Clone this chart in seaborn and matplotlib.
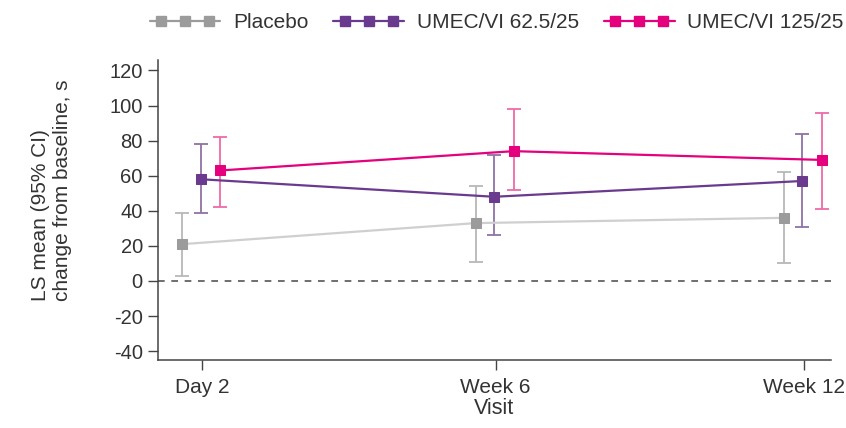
import matplotlib
matplotlib.use("Agg")
import matplotlib.pyplot as plt
from matplotlib.lines import Line2D
from matplotlib.legend_handler import HandlerLine2D, HandlerTuple
import seaborn as sns
import pandas as pd
import numpy as np

# Study visits (day of study) and their axis labels
visit_days = [2, 42, 84]
visit_labels = ["Day 2", "Week 6", "Week 12"]

groups = ["Placebo", "UMEC/VI 62.5/25", "UMEC/VI 125/25"]

# LS mean change from baseline (s) with 95% CI bounds
placebo_mean = [21, 33, 36]
placebo_lo = [3, 11, 10]
placebo_hi = [39, 54, 62]

umec62_mean = [58, 48, 57]
umec62_lo = [39, 26, 31]
umec62_hi = [78, 72, 84]

umec125_mean = [63, 74, 69]
umec125_lo = [42, 52, 41]
umec125_hi = [82, 98, 96]

means = [placebo_mean, umec62_mean, umec125_mean]
lows = [placebo_lo, umec62_lo, umec125_lo]
highs = [placebo_hi, umec62_hi, umec125_hi]

offsets = [-2.7, -0.2, 2.5]
marker_colors = ["#9b9b9b", "#6a3a8e", "#e5007d"]
line_colors = ["#cfcfcf", "#6a3a8e", "#e5007d"]
err_colors = ["#b8b8b8", "#8d72a6", "#ef6aa8"]

rows = []
for g, m, lo, hi, off in zip(groups, means, lows, highs, offsets):
    for d, mv, l, h in zip(visit_days, m, lo, hi):
        rows.append({"group": g, "day": d + off, "mean": mv, "lo": l, "hi": h})
df = pd.DataFrame(rows)

sns.set_style("ticks")
plt.rcParams["font.family"] = ["Liberation Sans", "DejaVu Sans"]
plt.rcParams["axes.unicode_minus"] = False

fig = plt.figure(figsize=(8.46, 4.28), dpi=100)
ax = fig.add_axes([0.1868, 0.159, 0.7955, 0.701])

ax.axhline(0, color="#555555", lw=1.2, ls=(0, (4, 4)), zorder=1)

for g, ec in zip(groups, err_colors):
    sub = df[df["group"] == g]
    ax.errorbar(sub["day"], sub["mean"],
                yerr=[sub["mean"] - sub["lo"], sub["hi"] - sub["mean"]],
                fmt="none", ecolor=ec, elinewidth=1.3, capsize=5, capthick=1.3,
                zorder=2)

for g, mc, lc in zip(groups, marker_colors, line_colors):
    sub = df[df["group"] == g]
    sns.lineplot(data=sub, x="day", y="mean", ax=ax, color=lc, lw=1.6,
                 marker="s", markersize=7, markerfacecolor=mc,
                 markeredgecolor=mc, legend=False, zorder=3, sort=True)

ax.set_xlim(-4, 87.7)
ax.set_ylim(-45, 126)
ax.set_yticks(np.arange(-40, 121, 20))
ax.set_xticks(visit_days)
ax.set_xticklabels(visit_labels)
ax.tick_params(axis="y", labelsize=14.5, colors="#444444", length=7, width=1,
               pad=4, labelcolor="#333333")
ax.tick_params(axis="x", labelsize=15, colors="#444444", length=7, width=1,
               pad=6, labelcolor="#333333")
for s in ["left", "bottom"]:
    ax.spines[s].set_color("#444444")
    ax.spines[s].set_linewidth(1.1)
sns.despine(ax=ax)

ax.set_xlabel("Visit", fontsize=15.5, color="#333333", labelpad=1)
ax.set_ylabel("LS mean (95% CI)\nchange from baseline, s", fontsize=15,
              color="#333333", multialignment="left")
ax.yaxis.set_label_coords(-0.128, 0.567)

# Legend: full-width sample line overlaid with three inset square markers
handler_map = {tuple: HandlerTuple(ndivide=1)}
leg_handles = []
for mc in marker_colors:
    seg = Line2D([0], [0], color=mc, lw=1.6)
    pts = Line2D([0], [0], ls="none", marker="s", markersize=7,
                 markerfacecolor=mc, markeredgecolor=mc)
    handler_map[seg] = HandlerLine2D(numpoints=1)
    handler_map[pts] = HandlerLine2D(numpoints=3, marker_pad=0.55)
    leg_handles.append((seg, pts))

fig.legend(leg_handles, groups, loc="center", bbox_to_anchor=(0.587, 0.947),
           bbox_transform=fig.transFigure, ncol=3, frameon=False, fontsize=15,
           handlelength=3.4, handletextpad=0.6, columnspacing=1.2,
           labelcolor="#333333", borderpad=0.2, handler_map=handler_map)

fig.savefig("out.png", dpi=100)
